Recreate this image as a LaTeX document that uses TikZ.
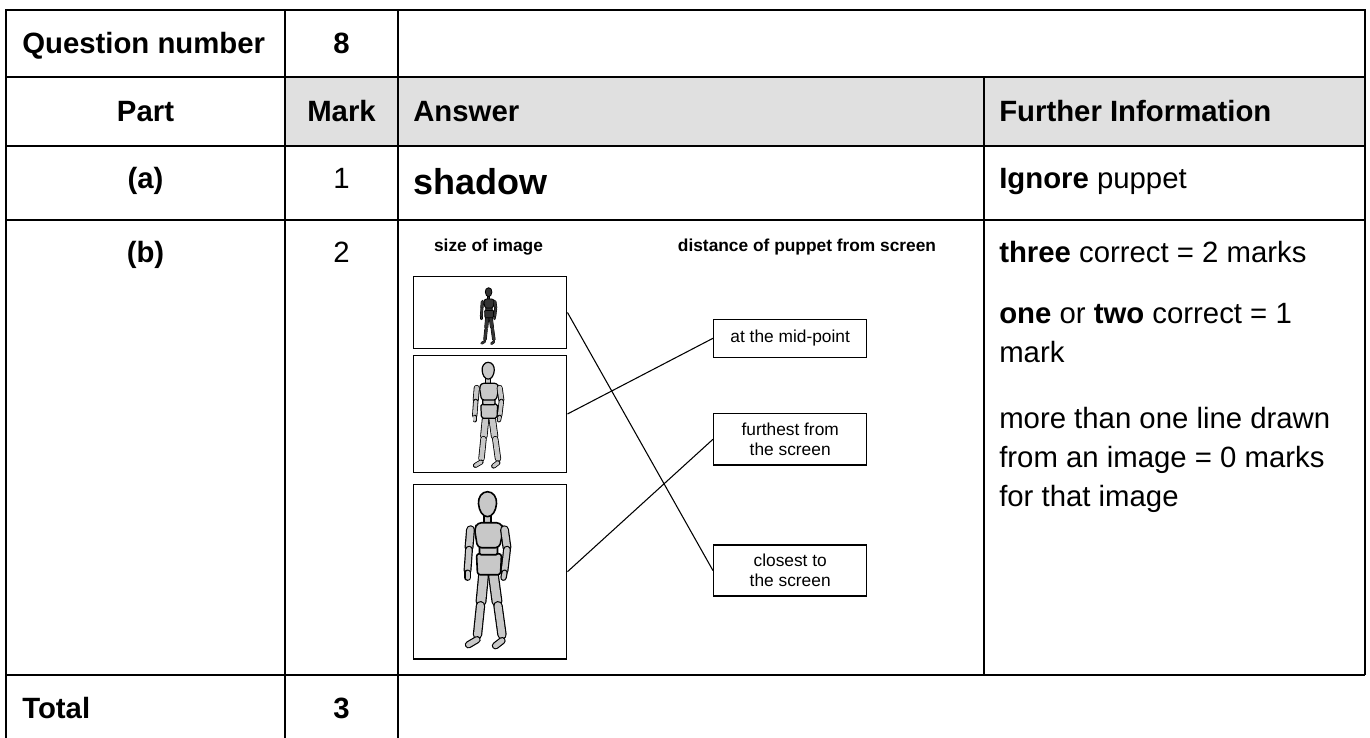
\documentclass[tikz,border=0pt]{standalone}
\usepackage{fontspec}
\setmainfont{Liberation Sans}
\definecolor{headgrey}{HTML}{E0E0E0}
\definecolor{woodgrey}{HTML}{C8C8C8}
\def\puppet[#1](#2)(#3){%
  \begin{scope}[shift={(#2)}, scale=#3, line join=round]
    % legs
    \foreach \xa/\ya/\xb/\yb/\w in {-4/84/-6.5/110/8.5, -7/114/-10/143/7, -10.5/148/-19/153/5,
                                    6/84/9.5/110/8.5, 10.5/114/14.5/143/7, 14.5/149/8/154/5}{
      \draw[line width={(\w+2.4)*#3*0.75pt}, line cap=round] (\xa,\ya) -- (\xb,\yb);
      \draw[#1, line width={\w*#3*0.75pt}, line cap=round] (\xa,\ya) -- (\xb,\yb);
    }
    % body
    \filldraw[fill=#1, line width={#3*0.9pt+0.3pt}, rounded corners={#3*2pt}] (-11,62) -- (14,62) -- (13,83) -- (-10,83) -- cycle;
    \filldraw[fill=#1, line width={#3*0.9pt+0.3pt}, rounded corners={#3*1pt}] (-8,55) rectangle (10,63);
    \filldraw[fill=#1, line width={#3*0.9pt+0.3pt}] (-3.5,20) rectangle (3.5,32);
    \filldraw[fill=#1, line width={#3*0.9pt+0.3pt}, rounded corners={#3*3pt}] (-13,37) -- (-10,31) -- (13,31) -- (16,37) -- (12,56) -- (-10,56) -- cycle;
    \filldraw[fill=#1, line width={#3*0.9pt+0.3pt}] (0,0) .. controls (6,0) and (9.5,6) .. (9,12) .. controls (8.5,19) and (5,25) .. (0,25)
      .. controls (-5,25) and (-8.5,19) .. (-9,12) .. controls (-9.5,6) and (-6,0) .. (0,0) -- cycle;
    % arms
    \foreach \xa/\ya/\xb/\yb/\w in {-17/38/-18.5/56/6.5, -18.5/58/-20/79/5.5, -20/81/-20/86/4,
                                    17/38/19.5/56/6.5, 19.5/58/17/79/5.5, 17/81/16/86/4}{
      \draw[line width={(\w+2.4)*#3*0.75pt}, line cap=round] (\xa,\ya) -- (\xb,\yb);
      \draw[#1, line width={\w*#3*0.75pt}, line cap=round] (\xa,\ya) -- (\xb,\yb);
    }
  \end{scope}}

\begin{document}
\begin{tikzpicture}[x=0.75pt, y=-0.75pt,
    grid/.style={line width=1.4pt},
    cell/.style={inner sep=0pt, font=\fontsize{22}{29}\selectfont},
    bcell/.style={inner sep=0pt, font=\fontsize{22}{29}\selectfont\bfseries},
    head/.style={inner sep=0pt, font=\fontsize{13}{15}\selectfont\bfseries},
    imgbox/.style={draw, line width=1pt, minimum width=114.9pt, inner sep=0pt},
    placebox/.style={draw, line width=1pt, minimum width=114.9pt, inner sep=0pt, align=center, font=\fontsize{13}{15}\selectfont},
    link/.style={line width=0.8pt}]
  \useasboundingbox (0,0) rectangle (1370,738);

  %%%%% TABLE %%%%%
  \fill[headgrey] (285,77) rectangle (1365,146);
  \draw[grid] (6,738) -- (6,10) -- (1365,10) -- (1365,675);
  \draw[grid] (6,77) -- (1365,77);
  \draw[grid] (6,146) -- (1365,146);
  \draw[grid] (6,220) -- (1365,220);
  \draw[grid] (6,675) -- (1365,675);
  \draw[grid] (285,10) -- (285,738);
  \draw[grid] (398,10) -- (398,738);
  \draw[grid] (984,77) -- (984,675);

  \node[bcell, anchor=base west] (qlabel) at (22,53.3) {Question number};
  \node[bcell, anchor=base] (qnum) at (341.5,53.3) {8};
  \node[bcell, anchor=base] (part) at (145.5,121.7) {Part};
  \node[bcell, anchor=base] (mark) at (341.5,121.7) {Mark};
  \node[bcell, anchor=base west] (answer) at (413,121.7) {Answer};
  \node[bcell, anchor=base west] (further) at (999,121.7) {Further Information};

  \node[bcell, anchor=base] (parta) at (145.5,188.3) {(a)};
  \node[cell, anchor=base] (marka) at (341.5,188.3) {1};
  \node[inner sep=0pt, font=\fontsize{27}{31}\selectfont\bfseries, anchor=base west] (shadow) at (413.3,195) {shadow};
  \node[cell, anchor=base west] (ignore) at (999,188.3) {\textbf{Ignore} puppet};

  \node[bcell, anchor=base] (partb) at (145.5,262.7) {(b)};
  \node[cell, anchor=base] (markb) at (341.5,262.7) {2};
  % multi-line nodes sit on the baseline of their last line
  \node[cell, anchor=base west] (rule1) at (999,262.1) {\textbf{three} correct = 2 marks};
  \node[cell, anchor=base west, align=left] (rule2) at (999,362.5) {\textbf{one} or \textbf{two} correct = 1\\mark};
  \node[cell, anchor=base west, align=left] (rule3) at (999,506) {more than one line drawn\\from an image = 0 marks\\for that image};

  \node[bcell, anchor=base west] (total) at (22,718.3) {Total};
  \node[bcell, anchor=base] (totalmark) at (341.5,718.3) {3};

  %%%%% MATCHING %%%%%
  \node[head, anchor=base] (sizehead) at (488.5,251) {size of image};
  \node[head, anchor=base] (disthead) at (807,251) {distance of puppet from screen};

  \node[imgbox, minimum height=53.7pt] (img1) at (490.2,312.5) {};
  \node[imgbox, minimum height=88pt] (img2) at (490.2,414) {};
  \node[imgbox, minimum height=131pt] (img3) at (490.2,571.7) {};

  \node[placebox, minimum height=28.5pt] (midpoint) at (790.2,338.3) {at the mid-point};
  \node[placebox, minimum height=38.5pt] (furthest) at (790.2,439.3) {furthest from\\the screen};
  \node[placebox, minimum height=38.25pt] (closest) at (790.2,570.5) {closest to\\the screen};

  \draw[link] (img1.east) -- (closest.west);
  \draw[link] (img2.east) -- (midpoint.west);
  \draw[link] (img3.east) -- (furthest.west);

  \puppet[black!80](488.6,287.7)(0.363);
  \puppet[woodgrey](488.2,362.3)(0.674);
  \puppet[woodgrey](487.5,491.7)(1);
\end{tikzpicture}
\end{document}
